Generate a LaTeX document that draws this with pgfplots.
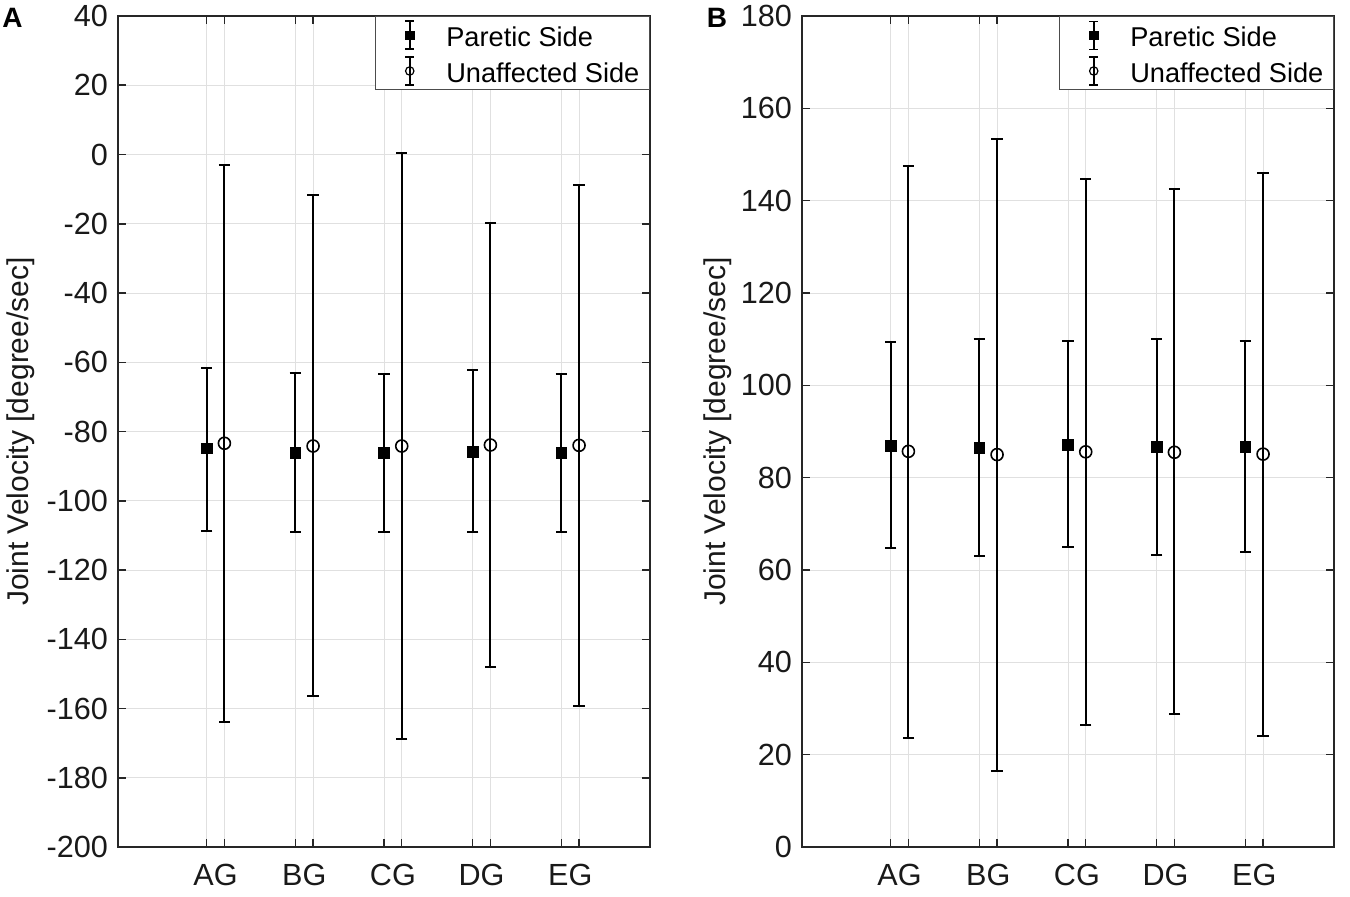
\documentclass[border=0pt]{standalone}
\usepackage{pgfplots}
\pgfplotsset{compat=1.18}
\usepackage{pgfplotstable}
\usepackage{fontspec}
\setmainfont{Liberation Sans}

\pgfplotstableread{
x y ep em
1 -84.9 23.1 23.9
2 -86.2 23.2 22.9
3 -86.1 22.7 23.0
4 -85.8 23.5 23.3
5 -86.1 22.7 23.0
}\LeftPar
\pgfplotstableread{
x y ep em
1.2 -83.4 80.5 80.4
2.2 -84.2 72.4 72.2
3.2 -84.2 84.7 84.6
4.2 -83.9 64.0 64.2
5.2 -84.0 75.3 75.2
}\LeftUna
\pgfplotstableread{
x y ep em
1 86.9 22.4 22.1
2 86.4 23.6 23.4
3 87.1 22.5 22.1
4 86.7 23.3 23.4
5 86.7 22.9 22.9
}\RightPar
\pgfplotstableread{
x y ep em
1.2 85.7 61.8 62.1
2.2 85.0 68.4 68.5
3.2 85.6 59.2 59.1
4.2 85.5 57.0 56.7
5.2 85.1 61.0 61.1
}\RightUna

\pgfplotsset{
  panel/.style={
    scale only axis,
    width=266pt, height=415.5pt,
    anchor=south west,
    xmin=0, xmax=6,
    xtick={1,1.2,2,2.2,3,3.2,4,4.2,5,5.2},
    xticklabels={,,,,,,,,,},
    extra x ticks={1.1,2.1,3.1,4.1,5.1},
    extra x tick labels={AG,BG,CG,DG,EG},
    extra x tick style={grid=none, major tick length=0pt, xticklabel style={yshift=-5pt}},
    xtick pos=both, ytick pos=both,
    tick align=inside,
    major tick length=4pt,
    grid=major,
    major grid style={black!12, line width=0.5pt},
    axis line style={black!85, line width=0.75pt},
    tick style={black!85, line width=0.75pt},
    ticklabel style={font=\fontsize{15.3}{18}\selectfont, text=black!90},
    yticklabel style={xshift=-1.5pt},
    /pgf/number format/assume math mode=true,
    label style={font=\fontsize{15}{18}\selectfont, text=black!90},
    ylabel={Joint Velocity [degree/sec]},
    legend style={
      at={(1,1)}, anchor=north east,
      draw=black!70, line width=0.6pt, fill=white,
      font=\fontsize{13.6}{16}\selectfont,
      inner xsep=5pt, inner ysep=0.5pt,
      nodes={inner sep=0pt, text height=14.4pt, text depth=3.4pt},
      column sep=4pt,
      cells={anchor=west},
    },
    error bars/y dir=both,
    error bars/y explicit,
    error bars/error bar style={black, line width=1pt},
    error bars/error mark options={black, rotate=90, mark size=2.8pt, line width=1pt},
  },
  errleg/.style={
    legend image code/.code={
      \path (0pt,0pt) (25.7pt,0pt);
      \draw[black, line width=0.9pt] (11.7pt,-7pt) -- (11.7pt,7pt) (9.5pt,-7pt) -- (13.9pt,-7pt) (9.5pt,7pt) -- (13.9pt,7pt);
      \draw[black, mark=#1, mark size=2.1pt, mark options={solid, line width=0.6pt}] plot coordinates {(11.7pt,0pt)};
    }
  },
  parstyle/.style={only marks, black, mark=square*, mark size=2.67pt, mark options={solid, fill=black}, errleg=square*},
  unastyle/.style={only marks, black, mark=o, mark size=3pt, mark options={solid, line width=0.8pt, fill=none}, errleg=o},
}

\begin{document}
\begin{tikzpicture}
\useasboundingbox (0,0) rectangle (675pt,448pt);

\begin{axis}[panel, at={(59pt,24.5pt)},
  ymin=-200, ymax=40, ytick={-200,-180,...,40},
  ylabel style={at={(axis description cs:-0.182,0.5)}, anchor=center, rotate=0}]
\addplot+[parstyle] table[x=x, y=y, y error plus=ep, y error minus=em] {\LeftPar};
\addlegendentry{Paretic Side}
\addplot+[unastyle] table[x=x, y=y, y error plus=ep, y error minus=em] {\LeftUna};
\addlegendentry{Unaffected Side}
\end{axis}

\begin{axis}[panel, at={(401pt,24.5pt)},
  ymin=0, ymax=180, ytick={0,20,...,180},
  ylabel style={at={(axis description cs:-0.158,0.5)}, anchor=center, rotate=0}]
\addplot+[parstyle] table[x=x, y=y, y error plus=ep, y error minus=em] {\RightPar};
\addlegendentry{Paretic Side}
\addplot+[unastyle] table[x=x, y=y, y error plus=ep, y error minus=em] {\RightUna};
\addlegendentry{Unaffected Side}
\end{axis}

\node[font=\fontsize{14}{16}\selectfont\bfseries, anchor=center] at (6.25pt,439pt) {A};
\node[font=\fontsize{14}{16}\selectfont\bfseries, anchor=center] at (358.5pt,439pt) {B};
\end{tikzpicture}
\end{document}
